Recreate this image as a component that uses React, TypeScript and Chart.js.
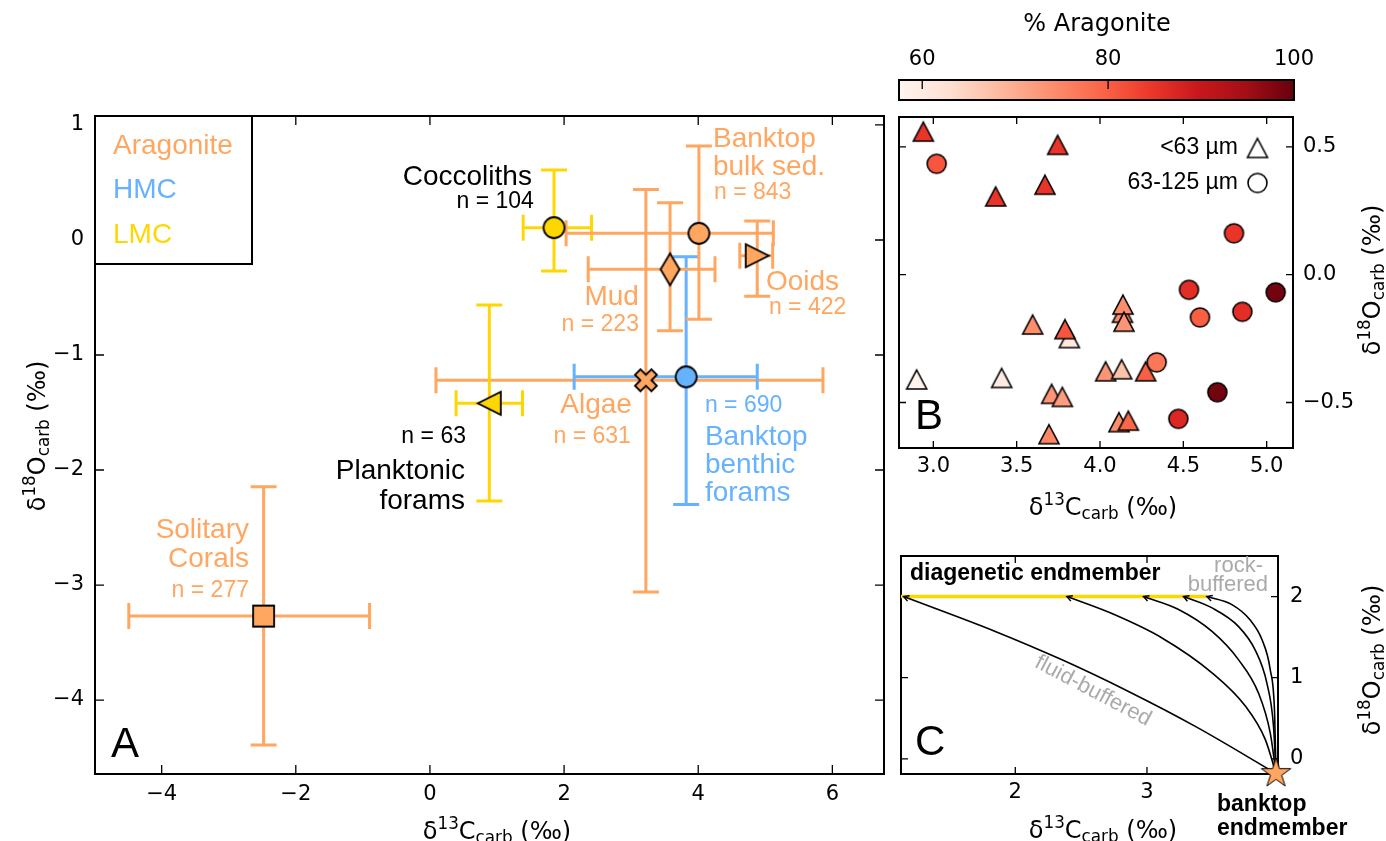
import React, { useEffect, useRef } from 'react';
import { Chart, registerables } from 'chart.js';

Chart.register(...registerables);

const W = 1386;
const H = 841;
const SANS = '"Liberation Sans", Arial, sans-serif';
const DJV = '"DejaVu Sans", sans-serif';
const ORANGE = 'rgb(255,166,96)';
const BLUE = 'rgb(102,178,255)';
const YELLOW = '#ffd700';
const GREY = '#aaaaaa';

// ---------------- Panel A : group means with spread ----------------
const groupNames = ['Solitary Corals', 'Algae', 'Planktonic forams', 'Banktop benthic forams', 'Mud', 'Coccoliths', 'Banktop bulk sed.', 'Ooids'];
const groupMineral = ['Aragonite', 'Aragonite', 'LMC', 'HMC', 'Aragonite', 'LMC', 'Aragonite', 'Aragonite'];
const groupMarker = ['s', 'X', '<', 'o', 'd', 'o', 'o', '>'];
const groupN = [277, 631, 63, 690, 223, 104, 843, 422];
const meanC = [-2.48, 3.22, 0.885, 3.82, 3.58, 1.85, 4.01, 4.88];
const meanO = [-3.27, -1.22, -1.42, -1.19, -0.255, 0.107, 0.058, -0.137];
const lowC = [-4.49, 0.09, 0.39, 2.15, 2.36, 1.39, 2.03, 4.62];
const highC = [-0.9, 5.86, 1.38, 4.88, 4.25, 2.41, 5.12, 5.11];
const lowO = [-4.39, -3.06, -2.27, -2.3, -0.79, -0.27, -0.69, -0.49];
const highO = [-2.145, 0.44, -0.565, -0.145, 0.324, 0.609, 0.817, 0.165];
const legendMinerals = ['Aragonite', 'HMC', 'LMC'];
const ticksAx = [-4, -2, 0, 2, 4, 6];
const ticksAy = [-4, -3, -2, -1, 0, 1];

// ---------------- Panel B : size fractions ----------------
const fineC = [2.94, 3.746, 3.67, 3.374, 4.135, 4.138, 4.144, 3.596, 3.816, 3.79, 2.9, 3.41, 4.034, 4.13, 4.274, 3.71, 3.774, 4.114, 4.17, 3.694];
const fineO = [0.56, 0.508, 0.352, 0.306, -0.149, -0.117, -0.184, -0.195, -0.248, -0.213, -0.41, -0.404, -0.378, -0.37, -0.378, -0.466, -0.478, -0.577, -0.571, -0.624];
const fineArag = [85, 85, 85, 85, 74, 74, 73, 74, 61, 81, 58, 60, 73, 67, 80, 73, 72, 74, 79, 75];
const coarseC = [3.02, 4.804, 4.534, 5.054, 4.6, 4.854, 4.34, 4.704, 4.47];
const coarseO = [0.434, 0.162, -0.059, -0.069, -0.167, -0.145, -0.343, -0.46, -0.564];
const coarseArag = [81, 85, 86, 99, 80, 86, 77, 99, 87];
const ticksBx = [3.0, 3.5, 4.0, 4.5, 5.0];
const ticksBy = [-0.5, 0.0, 0.5];
const aragMin = 57.5;
const aragMax = 100;
const ticksBar = [60, 80, 100];

// ---------------- Panel C : mixing paths ----------------
const mixC = [
  [1.152, 1.848, 2.355, 2.86, 3.367, 3.98],
  [2.392, 2.734, 3.114, 3.494, 3.747, 3.898, 3.98],
  [2.974, 3.24, 3.494, 3.696, 3.847, 3.936, 3.98],
  [3.278, 3.494, 3.696, 3.822, 3.911, 3.961, 3.98],
  [3.455, 3.645, 3.784, 3.873, 3.936, 3.969, 3.98],
];
const mixO = [
  [2.0, 1.57, 1.22, 0.83, 0.4, -0.18],
  [2.0, 1.79, 1.49, 1.06, 0.65, 0.24, -0.18],
  [2.0, 1.84, 1.57, 1.22, 0.81, 0.32, -0.18],
  [2.0, 1.86, 1.63, 1.34, 0.93, 0.4, -0.18],
  [2.0, 1.9, 1.71, 1.47, 1.1, 0.57, -0.18],
];
const diagLineC = [1.132, 3.455];
const diagO = 2.0;
const bankEnd = [3.98, -0.18];
const ticksCx = [2, 3];
const ticksCy = [0, 1, 2];

// ---------------- helpers ----------------
const mineralColor: Record<string, string> = { Aragonite: ORANGE, HMC: BLUE, LMC: YELLOW };
const REDS = [[255, 245, 240], [254, 224, 210], [252, 187, 161], [252, 146, 114], [251, 106, 74], [239, 59, 44], [203, 24, 29], [165, 15, 21], [103, 0, 13]];
function reds(v: number) {
  let t = (v - aragMin) / (aragMax - aragMin);
  t = Math.max(0, Math.min(1, t));
  const f = t * 8;
  const i = Math.min(7, Math.floor(f));
  const u = f - i;
  const c = REDS[i].map((a, k) => Math.round(a + (REDS[i + 1][k] - a) * u));
  return `rgb(${c[0]},${c[1]},${c[2]})`;
}
const fmtMinus = (s: string) => s.replace('-', '\u2212');

function marker(shape: string, w: number, h: number, fill: string, lw = 1.6): HTMLCanvasElement {
  const pad = Math.ceil(lw) + 2;
  const c = document.createElement('canvas');
  c.width = Math.ceil(w + 2 * pad);
  c.height = Math.ceil(h + 2 * pad);
  const g = c.getContext('2d')!;
  g.translate(c.width / 2, c.height / 2);
  const a = w / 2;
  const b = h / 2;
  g.beginPath();
  if (shape === 'o') g.ellipse(0, 0, a, b, 0, 0, Math.PI * 2);
  else if (shape === 's') g.rect(-a, -b, w, h);
  else if (shape === 'd') { g.moveTo(0, -b); g.lineTo(a, 0); g.lineTo(0, b); g.lineTo(-a, 0); g.closePath(); }
  else if (shape === '^') { g.moveTo(0, -b); g.lineTo(a, b); g.lineTo(-a, b); g.closePath(); }
  else if (shape === '>') { g.moveTo(a, 0); g.lineTo(-a, b); g.lineTo(-a, -b); g.closePath(); }
  else if (shape === '<') { g.moveTo(-a, 0); g.lineTo(a, -b); g.lineTo(a, b); g.closePath(); }
  else if (shape === 'X') {
    const v = [[-1, -2], [0, -1], [1, -2], [2, -1], [1, 0], [2, 1], [1, 2], [0, 1], [-1, 2], [-2, 1], [-1, 0], [-2, -1]];
    v.forEach(([px, py], i) => { const X = (px / 4) * w; const Y = (py / 4) * h; if (i === 0) g.moveTo(X, Y); else g.lineTo(X, Y); });
    g.closePath();
  } else if (shape === '*') {
    const R = a;
    const r = R * 0.382;
    for (let i = 0; i < 10; i++) {
      const ang = -Math.PI / 2 + (i * Math.PI) / 5;
      const rr = i % 2 === 0 ? R : r;
      const X = Math.cos(ang) * rr;
      const Y = Math.sin(ang) * rr;
      if (i === 0) g.moveTo(X, Y); else g.lineTo(X, Y);
    }
    g.closePath();
  }
  g.fillStyle = fill;
  g.fill();
  g.lineWidth = lw;
  g.lineJoin = 'miter';
  g.strokeStyle = '#000';
  g.stroke();
  return c;
}

function markerA(shape: string, color: string) {
  if (shape === 'o') return marker('o', 21, 21, color, 1.8);
  if (shape === 's') return marker('s', 21, 21, color, 1.8);
  if (shape === 'd') return marker('d', 19, 32, color, 1.8);
  if (shape === 'X') return marker('X', 22, 22, color, 1.8);
  return marker(shape, 23, 23, color, 1.8);
}

// size: fixed thickness of the axis box (labels are clipped to it)
function axis(min: number, max: number, ticks: number[], position: string, pad: number, size: number, fmt: (v: number) => string) {
  return {
    type: 'linear',
    position,
    min,
    max,
    grid: { display: false, drawTicks: false },
    border: { display: false },
    ticks: {
      padding: pad,
      color: '#000',
      font: { family: DJV, size: 21 },
      maxRotation: 0,
      minRotation: 0,
      autoSkip: false,
      callback: (v: any) => fmt(Number(v)),
    },
    afterBuildTicks: (s: any) => { s.ticks = ticks.map((v) => ({ value: v })); },
    afterFit: (s: any) => { if (s.isHorizontal()) s.height = size; else s.width = size; },
  };
}

function framePlugin(id: string, tickLen: number, spineW: number, before = false) {
  const draw = (chart: any) => {
    const { ctx, chartArea: a, scales } = chart;
    const xs = scales.x;
    const ys = scales.y;
    ctx.save();
    ctx.strokeStyle = '#000';
    ctx.lineWidth = 1.3;
    ctx.beginPath();
    for (const t of xs.ticks) {
      const p = xs.getPixelForValue(t.value);
      if (p < a.left + 1 || p > a.right - 1) continue;
      ctx.moveTo(p, a.bottom); ctx.lineTo(p, a.bottom - tickLen);
      ctx.moveTo(p, a.top); ctx.lineTo(p, a.top + tickLen);
    }
    for (const t of ys.ticks) {
      const p = ys.getPixelForValue(t.value);
      if (p < a.top + 1 || p > a.bottom - 1) continue;
      ctx.moveTo(a.left, p); ctx.lineTo(a.left + tickLen, p);
      ctx.moveTo(a.right, p); ctx.lineTo(a.right - tickLen, p);
    }
    ctx.stroke();
    ctx.lineWidth = spineW;
    ctx.strokeRect(a.left, a.top, a.right - a.left, a.bottom - a.top);
    ctx.restore();
  };
  return before ? { id, beforeDatasetsDraw: draw } : { id, afterDatasetsDraw: draw };
}

type TextItem = { t: string; x: number; y: number; color?: string; size: number; align?: CanvasTextAlign; bold?: boolean; family?: string; rot?: number; data?: boolean };

function drawText(ctx: CanvasRenderingContext2D, it: TextItem, px: number, py: number) {
  ctx.save();
  ctx.translate(px, py);
  if (it.rot) ctx.rotate((it.rot * Math.PI) / 180);
  ctx.font = `${it.bold ? 'bold ' : ''}${it.size}px ${it.family || SANS}`;
  ctx.fillStyle = it.color || '#000';
  ctx.textAlign = it.align || 'left';
  ctx.textBaseline = 'middle';
  ctx.fillText(it.t, 0, 0);
  ctx.restore();
}

function textPlugin(id: string, items: TextItem[]) {
  return {
    id,
    afterDatasetsDraw(chart: any) {
      const { ctx, scales } = chart;
      for (const it of items) {
        const px = it.data ? scales.x.getPixelForValue(it.x) : it.x;
        const py = it.data ? scales.y.getPixelForValue(it.y) : it.y;
        drawText(ctx, it, px, py);
      }
    },
  };
}

function drawDelta(ctx: CanvasRenderingContext2D, iso: string, el: string, x: number, y: number, rotate: boolean, size: number) {
  const parts = [
    { t: '\u03b4', s: 1, dy: 0 },
    { t: iso, s: 0.7, dy: -0.42 },
    { t: el, s: 1, dy: 0 },
    { t: 'carb', s: 0.7, dy: 0.2 },
    { t: ' (\u2030)', s: 1, dy: 0 },
  ];
  ctx.save();
  ctx.translate(x, y);
  if (rotate) ctx.rotate(-Math.PI / 2);
  ctx.textBaseline = 'alphabetic';
  ctx.textAlign = 'left';
  ctx.fillStyle = '#000';
  const widths: number[] = [];
  let total = 0;
  for (const p of parts) {
    ctx.font = `${size * p.s}px ${DJV}`;
    const w = ctx.measureText(p.t).width;
    widths.push(w);
    total += w;
  }
  let cx = -total / 2;
  const base = size * 0.36;
  parts.forEach((p, i) => {
    ctx.font = `${size * p.s}px ${DJV}`;
    ctx.fillText(p.t, cx, base + p.dy * size);
    cx += widths[i];
  });
  ctx.restore();
}

function axisLabelPlugin(id: string, labels: { iso: string; el: string; x: number; y: number; rot: boolean }[]) {
  return {
    id,
    afterDraw(chart: any) {
      for (const l of labels) drawDelta(chart.ctx, l.iso, l.el, l.x, l.y, l.rot, 24);
    },
  };
}

const baseOptions = (pad: { left: number; top: number; right: number; bottom: number }) => ({
  responsive: false,
  animation: false,
  events: [],
  layout: { padding: pad, autoPadding: false },
  plugins: { legend: { display: false }, tooltip: { enabled: false } },
});

// ---------------- Panel A ----------------
function buildA(canvas: HTMLCanvasElement) {
  const styles = groupMarker.map((m, i) => markerA(m, mineralColor[groupMineral[i]]));
  const pts = meanC.map((c, i) => ({ x: c, y: meanO[i] }));
  const errPlugin = {
    id: 'errA',
    beforeDatasetsDraw(chart: any) {
      const { ctx, scales } = chart;
      const xs = scales.x;
      const ys = scales.y;
      const cap = 13;
      ctx.save();
      ctx.lineWidth = 3;
      groupNames.forEach((_, i) => {
        ctx.strokeStyle = mineralColor[groupMineral[i]];
        const px = xs.getPixelForValue(meanC[i]);
        const py = ys.getPixelForValue(meanO[i]);
        const x0 = xs.getPixelForValue(lowC[i]);
        const x1 = xs.getPixelForValue(highC[i]);
        const y0 = ys.getPixelForValue(lowO[i]);
        const y1 = ys.getPixelForValue(highO[i]);
        ctx.beginPath();
        ctx.moveTo(x0, py); ctx.lineTo(x1, py);
        ctx.moveTo(px, y0); ctx.lineTo(px, y1);
        ctx.moveTo(x0, py - cap); ctx.lineTo(x0, py + cap);
        ctx.moveTo(x1, py - cap); ctx.lineTo(x1, py + cap);
        ctx.moveTo(px - cap, y0); ctx.lineTo(px + cap, y0);
        ctx.moveTo(px - cap, y1); ctx.lineTo(px + cap, y1);
        ctx.stroke();
      });
      ctx.restore();
    },
  };
  const legendPlugin = {
    id: 'legA',
    afterDatasetsDraw(chart: any) {
      const { ctx, chartArea: a } = chart;
      ctx.save();
      ctx.lineWidth = 2;
      ctx.strokeStyle = '#000';
      ctx.fillStyle = '#fff';
      ctx.fillRect(a.left, a.top, 157, 148);
      ctx.strokeRect(a.left, a.top, 157, 148);
      ctx.restore();
      legendMinerals.forEach((m, i) => {
        drawText(ctx, { t: m, x: 0, y: 0, size: 28, color: mineralColor[m] }, a.left + 18, a.top + 30 + i * 44.5);
      });
    },
  };
  const O = ORANGE;
  const labels: TextItem[] = [
    { t: 'Coccoliths', x: 1.52, y: 0.548, size: 28, align: 'right', data: true },
    { t: `n = ${groupN[5]}`, x: 1.55, y: 0.33, size: 23, align: 'right', data: true },
    { t: 'Banktop', x: 4.22, y: 0.878, size: 28, color: O, data: true },
    { t: 'bulk sed.', x: 4.22, y: 0.635, size: 28, color: O, data: true },
    { t: `n = ${groupN[6]}`, x: 4.235, y: 0.409, size: 23, color: O, data: true },
    { t: 'Mud', x: 3.116, y: -0.496, size: 28, color: O, align: 'right', data: true },
    { t: `n = ${groupN[4]}`, x: 3.116, y: -0.739, size: 23, color: O, align: 'right', data: true },
    { t: 'Ooids', x: 5.01, y: -0.365, size: 28, color: O, data: true },
    { t: `n = ${groupN[7]}`, x: 5.054, y: -0.591, size: 23, color: O, data: true },
    { t: 'Algae', x: 3.011, y: -1.435, size: 28, color: O, align: 'right', data: true },
    { t: `n = ${groupN[1]}`, x: 2.996, y: -1.713, size: 23, color: O, align: 'right', data: true },
    { t: `n = ${groupN[3]}`, x: 4.1, y: -1.443, size: 23, color: BLUE, data: true },
    { t: 'Banktop', x: 4.1, y: -1.713, size: 28, color: BLUE, data: true },
    { t: 'benthic', x: 4.1, y: -1.957, size: 28, color: BLUE, data: true },
    { t: 'forams', x: 4.1, y: -2.2, size: 28, color: BLUE, data: true },
    { t: `n = ${groupN[2]}`, x: 0.537, y: -1.713, size: 23, align: 'right', data: true },
    { t: 'Planktonic', x: 0.522, y: -2.009, size: 28, align: 'right', data: true },
    { t: 'forams', x: 0.522, y: -2.27, size: 28, align: 'right', data: true },
    { t: 'Solitary', x: -2.698, y: -2.522, size: 28, color: O, align: 'right', data: true },
    { t: 'Corals', x: -2.698, y: -2.774, size: 28, color: O, align: 'right', data: true },
    { t: `n = ${groupN[0]}`, x: -2.698, y: -3.052, size: 23, color: O, align: 'right', data: true },
    { t: 'A', x: 111, y: 745, size: 42 },
  ];
  return new Chart(canvas, {
    type: 'scatter',
    data: {
      datasets: [{
        data: pts,
        pointStyle: (c: any) => styles[c.dataIndex],
        pointRadius: 6,
        clip: false,
      } as any],
    },
    options: {
      ...baseOptions({ left: 5, top: 116, right: W - 884, bottom: H - 774 - 50 }),
      scales: {
        x: axis(-4.994, 6.77, ticksAx, 'bottom', 8, 50, (v) => fmtMinus(String(v))),
        y: axis(-4.643, 1.078, ticksAy, 'left', 11, 90, (v) => fmtMinus(String(v))),
      },
    } as any,
    plugins: [
      errPlugin,
      framePlugin('frameA', 9, 2),
      legendPlugin,
      textPlugin('txtA', labels),
      axisLabelPlugin('axA', [
        { iso: '13', el: 'C', x: 497, y: 830, rot: false },
        { iso: '18', el: 'O', x: 36, y: 436, rot: true },
      ]),
    ] as any,
  });
}

// ---------------- Panel B ----------------
function buildB(canvas: HTMLCanvasElement) {
  const fineStyles = fineArag.map((v) => marker('^', 20, 19, reds(v), 1.6));
  const coarseStyles = coarseArag.map((v) => marker('o', 19, 19, reds(v), 1.6));
  const openTri = marker('^', 20, 19, '#fff', 1.6);
  const openCirc = marker('o', 19, 19, '#fff', 1.6);
  const legendPlugin = {
    id: 'legB',
    afterDatasetsDraw(chart: any) {
      const { ctx } = chart;
      drawText(ctx, { t: '<63 \u00b5m', x: 0, y: 0, size: 23, align: 'right' }, 1238, 148);
      drawText(ctx, { t: '63-125 \u00b5m', x: 0, y: 0, size: 23, align: 'right' }, 1238, 183);
      ctx.drawImage(openTri, 1257.5 - openTri.width / 2, 148 - openTri.height / 2);
      ctx.drawImage(openCirc, 1257.5 - openCirc.width / 2, 183 - openCirc.height / 2);
    },
  };
  return new Chart(canvas, {
    type: 'scatter',
    data: {
      datasets: [
        { data: fineC.map((c, i) => ({ x: c, y: fineO[i] })), pointStyle: (c: any) => fineStyles[c.dataIndex], pointRadius: 6, order: 2 } as any,
        { data: coarseC.map((c, i) => ({ x: c, y: coarseO[i] })), pointStyle: (c: any) => coarseStyles[c.dataIndex], pointRadius: 6, order: 1 } as any,
      ],
    },
    options: {
      ...baseOptions({ left: 899, top: 117, right: W - 1293 - 60, bottom: H - 448 - 50 }),
      scales: {
        x: axis(2.794, 5.158, ticksBx, 'bottom', 6, 50, (v) => fmtMinus(v.toFixed(1))),
        y: axis(-0.678, 0.617, ticksBy, 'right', 10, 60, (v) => fmtMinus(v.toFixed(1))),
      },
    } as any,
    plugins: [
      framePlugin('frameB', 7, 2),
      legendPlugin,
      textPlugin('txtB', [{ t: 'B', x: 915, y: 417, size: 42 }]),
      axisLabelPlugin('axB', [
        { iso: '13', el: 'C', x: 1103, y: 506, rot: false },
        { iso: '18', el: 'O', x: 1371, y: 280, rot: true },
      ]),
    ] as any,
  });
}

// ---------------- Colour bar ----------------
function buildBar(canvas: HTMLCanvasElement) {
  const barPlugin = {
    id: 'bar',
    afterDatasetsDraw(chart: any) {
      const { ctx, chartArea: a, scales } = chart;
      const g = ctx.createLinearGradient(a.left, 0, a.right, 0);
      REDS.forEach((c, i) => g.addColorStop(i / 8, `rgb(${c[0]},${c[1]},${c[2]})`));
      ctx.save();
      ctx.fillStyle = g;
      ctx.fillRect(a.left, a.top, a.right - a.left, a.bottom - a.top);
      ctx.strokeStyle = '#000';
      ctx.lineWidth = 1.3;
      ctx.beginPath();
      for (const t of scales.x.ticks) {
        const p = scales.x.getPixelForValue(t.value);
        if (p > a.right - 1) continue;
        ctx.moveTo(p, a.top); ctx.lineTo(p, a.top + 9);
      }
      ctx.stroke();
      ctx.lineWidth = 2;
      ctx.strokeRect(a.left, a.top, a.right - a.left, a.bottom - a.top);
      ctx.restore();
    },
  };
  return new Chart(canvas, {
    type: 'scatter',
    data: { datasets: [] },
    options: {
      ...baseOptions({ left: 899, top: 80 - 45, right: W - 1294, bottom: H - 100 }),
      scales: {
        x: axis(aragMin, aragMax, ticksBar, 'top', 8, 45, (v) => String(v)),
        y: { display: false, min: 0, max: 1 },
      },
    } as any,
    plugins: [barPlugin, textPlugin('txtBar', [{ t: '% Aragonite', x: 1097, y: 25, size: 24, align: 'center', family: DJV }])] as any,
  });
}

// ---------------- Panel C ----------------
function buildC(canvas: HTMLCanvasElement) {
  const star = marker('*', 31, 31, ORANGE, 1);
  const datasets: any[] = [
    { data: diagLineC.map((c) => ({ x: c, y: diagO })), showLine: true, borderColor: YELLOW, borderWidth: 3.5, pointRadius: 0, order: 10 },
  ];
  mixC.forEach((xs, k) => {
    datasets.push({
      data: xs.map((c, i) => ({ x: c, y: mixO[k][i] })),
      showLine: true,
      borderColor: '#000',
      borderWidth: 1.6,
      pointRadius: 0,
      cubicInterpolationMode: 'monotone',
      order: 5,
    });
  });
  datasets.push({ data: [{ x: bankEnd[0], y: bankEnd[1] }], pointStyle: star, pointRadius: 6, clip: false, order: 0 });
  const arrowPlugin = {
    id: 'arrC',
    afterDatasetsDraw(chart: any) {
      const { ctx, scales } = chart;
      ctx.save();
      ctx.strokeStyle = '#000';
      ctx.lineWidth = 1.5;
      mixC.forEach((xs, k) => {
        const x0 = scales.x.getPixelForValue(xs[0]);
        const y0 = scales.y.getPixelForValue(mixO[k][0]);
        const x1 = scales.x.getPixelForValue(xs[1]);
        const y1 = scales.y.getPixelForValue(mixO[k][1]);
        const ang = Math.atan2(y0 - y1, x0 - x1);
        const L = 6;
        ctx.beginPath();
        ctx.moveTo(x0 - L * Math.cos(ang - 0.5), y0 - L * Math.sin(ang - 0.5));
        ctx.lineTo(x0, y0);
        ctx.lineTo(x0 - L * Math.cos(ang + 0.5), y0 - L * Math.sin(ang + 0.5));
        ctx.stroke();
      });
      ctx.restore();
    },
  };
  const labels: TextItem[] = [
    { t: 'diagenetic endmember', x: 910, y: 574, size: 23, bold: true },
    { t: 'rock-', x: 1263, y: 566, size: 22, color: GREY, align: 'right' },
    { t: 'buffered', x: 1268, y: 585, size: 22, color: GREY, align: 'right' },
    { t: 'fluid-buffered', x: 1093, y: 691, size: 22, color: GREY, align: 'center', rot: 27.8 },
    { t: 'C', x: 915, y: 743, size: 42 },
    { t: 'banktop', x: 1217, y: 805, size: 23, bold: true },
    { t: 'endmember', x: 1217, y: 829, size: 23, bold: true },
  ];
  return new Chart(canvas, {
    type: 'scatter',
    data: { datasets },
    options: {
      ...baseOptions({ left: 901, top: 556, right: W - 1278 - 60, bottom: H - 774 - 40 }),
      scales: {
        x: axis(1.132, 3.995, ticksCx, 'bottom', 6, 40, (v) => String(v)),
        y: axis(-0.187, 2.5, ticksCy, 'right', 12, 60, (v) => String(v)),
      },
    } as any,
    plugins: [
      framePlugin('frameC', 7, 2, true),
      arrowPlugin,
      textPlugin('txtC', labels),
      axisLabelPlugin('axC', [
        { iso: '13', el: 'C', x: 1103, y: 829, rot: false },
        { iso: '18', el: 'O', x: 1371, y: 660, rot: true },
      ]),
    ] as any,
  });
}

export default function App() {
  const ra = useRef<HTMLCanvasElement>(null);
  const rb = useRef<HTMLCanvasElement>(null);
  const rc = useRef<HTMLCanvasElement>(null);
  const rd = useRef<HTMLCanvasElement>(null);
  useEffect(() => {
    const charts = [buildA(ra.current!), buildB(rb.current!), buildC(rc.current!), buildBar(rd.current!)];
    return () => charts.forEach((c) => c.destroy());
  }, []);
  const st: React.CSSProperties = { position: 'absolute', left: 0, top: 0, width: W, height: H, display: 'block' };
  return (
    <div style={{ position: 'fixed', left: 0, top: 0, width: W, height: H, background: '#fff', overflow: 'hidden' }}>
      <canvas ref={ra} width={W} height={H} style={st} />
      <canvas ref={rb} width={W} height={H} style={st} />
      <canvas ref={rc} width={W} height={H} style={st} />
      <canvas ref={rd} width={W} height={H} style={st} />
    </div>
  );
}
